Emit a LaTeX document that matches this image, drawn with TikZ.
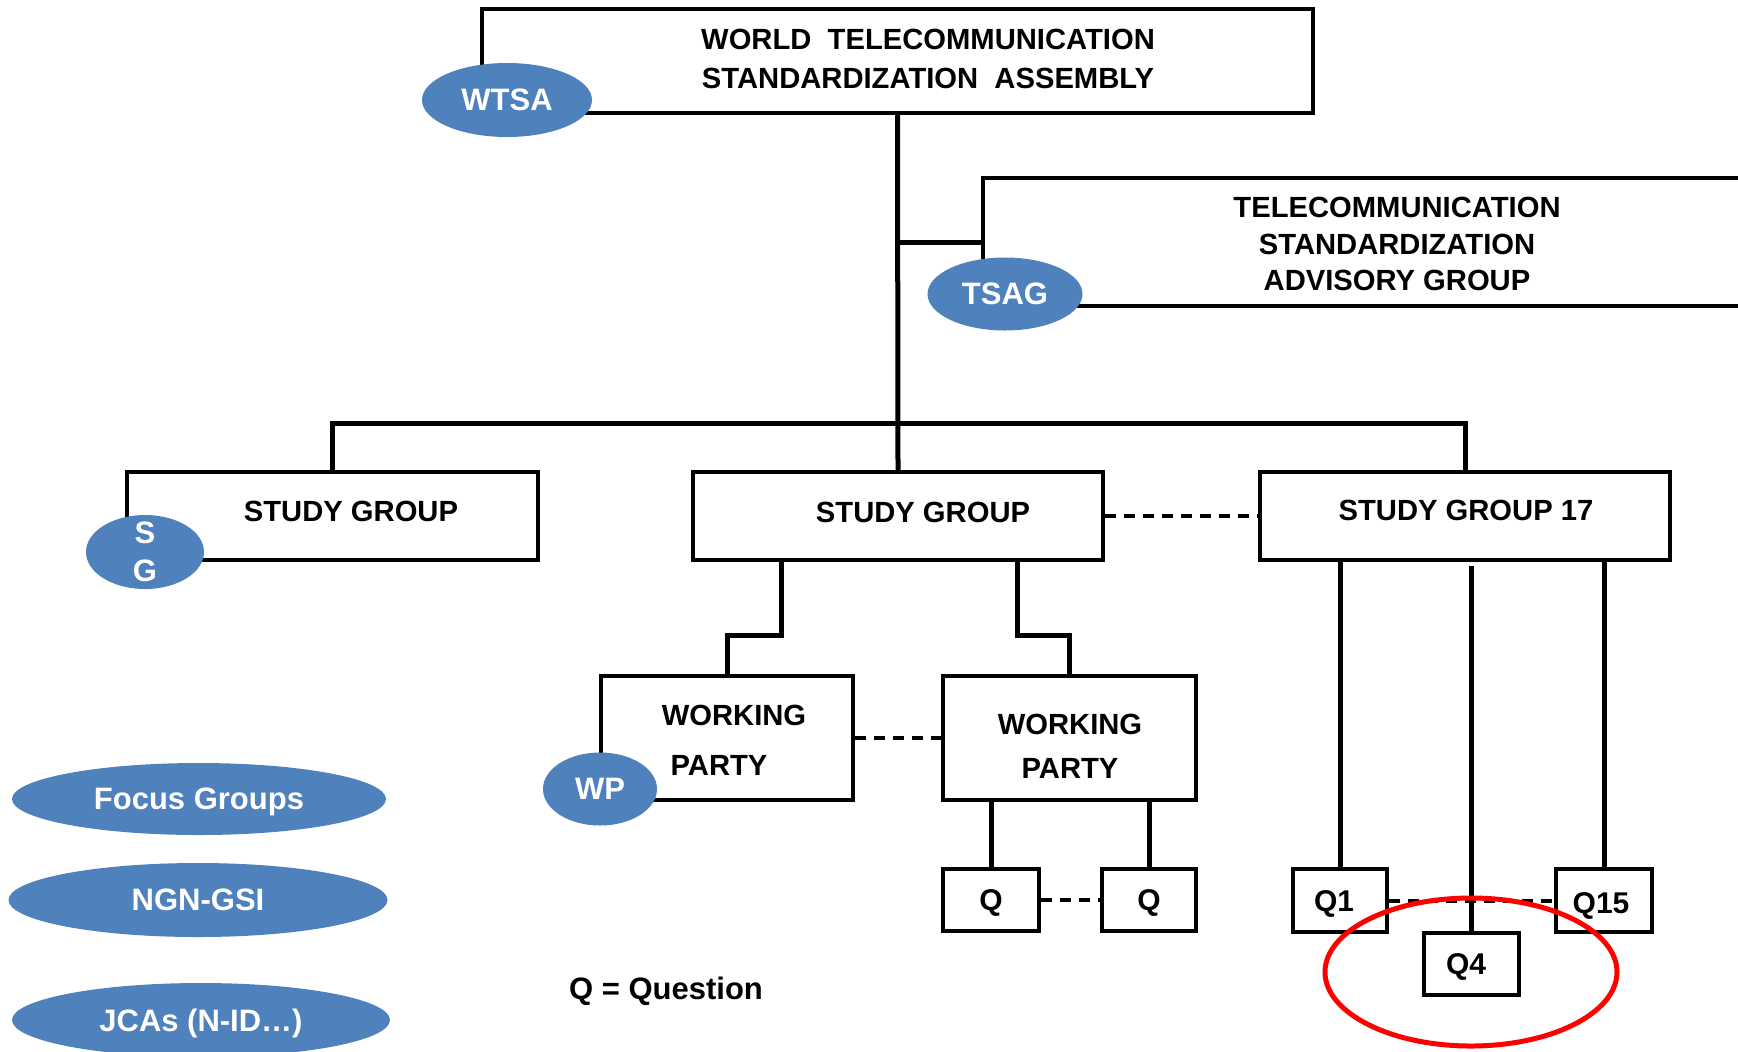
\documentclass[tikz,border=0pt]{standalone}
\usepackage{fontspec}
\setmainfont{Liberation Sans}
\usetikzlibrary{shapes.geometric,calc}
\definecolor{itublue}{RGB}{79,129,189}
\begin{document}
\begin{tikzpicture}[x=0.5pt,y=-0.5pt,
 box/.style={draw, line width=1.9pt, rectangle, inner sep=0pt, fill=white},
 blob/.style={ellipse, fill=itublue, inner sep=0pt, text=white, text depth=0pt,
   font=\fontsize{15.5}{18}\selectfont\bfseries},
 wtext/.style={inner sep=0pt, text=white, align=center},
 lbl/.style={inner sep=0pt, font=\fontsize{14.6}{19.5}\selectfont\bfseries, align=center},
 qlbl/.style={inner sep=0pt, font=\fontsize{15}{18}\selectfont\bfseries},
 link/.style={line width=2.5pt},
 dlink/.style={line width=2pt, dash pattern=on 5.5pt off 4pt},
 ring/.style={ellipse, draw=red, line width=2.5pt, inner sep=0pt}
]
\useasboundingbox (0,0) rectangle (1738,1051);
\clip (0,0) rectangle (1738,1051);
\fill[white] (0,0) rectangle (1738,1051);

% boxes
\node[box, minimum width=415.5pt, minimum height=52pt] (wtsa) at (897.5,61) {};
\node[box, minimum width=388.5pt, minimum height=64pt] (tsag) at (1371.5,242) {};
\node[box, minimum width=205.5pt, minimum height=44pt] (sgL) at (332.5,516) {};
\node[box, minimum width=205pt, minimum height=44pt] (sgM) at (898,516) {};
\node[box, minimum width=205pt, minimum height=44pt] (sg17) at (1465,516) {};
\node[box, minimum width=126pt, minimum height=62pt] (wpL) at (727,738) {};
\node[box, minimum width=126.5pt, minimum height=62pt] (wpR) at (1069.5,738) {};
\node[box, minimum width=48pt, minimum height=31pt] (qa) at (991,900) {};
\node[box, minimum width=47pt, minimum height=31pt] (qb) at (1149,900) {};
\node[box, minimum width=47pt, minimum height=31.5pt] (q1) at (1340,900.5) {};
\node[box, minimum width=48pt, minimum height=31.5pt] (q15) at (1604,900.5) {};
\node[box, minimum width=47.5pt, minimum height=31pt] (q4) at (1471.5,964) {};

% connectors
\coordinate (barY) at (0,423);
\draw[link] (wtsa.south) -- (sgM.north);
\draw[link] (wtsa.south |- tsag.west) -- (tsag.west);
\draw[link] (sgL.north) |- (sg17.north |- barY) -- (sg17.north);
\draw[link] ($(sgM.south)+(-117,0)$) -- ++(0,74) -| (wpL.north);
\draw[link] ($(sgM.south)+(119,0)$) -- ++(0,74) -| (wpR.north);
\draw[link] (qa.north |- wpR.south) -- (qa.north);
\draw[link] (qb.north |- wpR.south) -- (qb.north);
\draw[link] (q1.north |- sg17.south) -- (q1.north);
\draw[link] (q15.north |- sg17.south) -- (q15.north);
\draw[link] ($(q4.north |- sg17.south)+(0,4)$) -- (q4.north);

% dashed links
\draw[dlink] (sgM.east) -- (sg17.west);
\draw[dlink] (wpL.east) -- (wpR.west);
\draw[dlink] (qa.east) -- (qb.west);
\draw[dlink] (q1.east) -- (q15.west);

% ellipses
\node[blob, minimum width=85pt, minimum height=37pt] (wtsaE) at (507,100) {WTSA};
\node[blob, minimum width=77.5pt, minimum height=36.5pt] (tsagE) at (1005,294) {TSAG};
\node[blob, minimum width=59pt, minimum height=37pt] (sgE) at (145,552) {};
\node[wtext, font=\fontsize{15.5}{19}\selectfont\bfseries] (sgEt) at (sgE) {S\\G};
\node[blob, minimum width=57pt, minimum height=36.5pt] (wpE) at (600,789) {WP};
\node[blob, minimum width=187pt, minimum height=36pt] (fg) at (199,799) {Focus Groups};
\node[blob, minimum width=189.5pt, minimum height=37pt] (ngn) at (198,900) {NGN-GSI};
\node[blob, minimum width=189pt, minimum height=37pt] (jca) at (201,1020) {JCAs (N-ID…)};

% labels
\node[lbl] (wtsaT) at (928,58.5) {WORLD\ \ TELECOMMUNICATION\\STANDARDIZATION\ \ ASSEMBLY};
\node[lbl, font=\fontsize{14.6}{18.3}\selectfont\bfseries] (tsagT) at (1397,244) {TELECOMMUNICATION\\STANDARDIZATION\\ADVISORY GROUP};
\node[lbl] (sgLT) at (351,511) {STUDY GROUP};
\node[lbl] (sgMT) at (923,512) {STUDY GROUP};
\node[lbl] (sg17T) at (1466,510) {STUDY GROUP 17};
\node[lbl] (wpLT1) at (734,715) {WORKING};
\node[lbl] (wpLT2) at (719,765) {PARTY};
\node[lbl, font=\fontsize{14.6}{22}\selectfont\bfseries] (wpRT) at (1070,746) {WORKING\\PARTY};
\node[qlbl] (qaT) at (991,903) {Q};
\node[qlbl] (qbT) at (1149,903) {Q};
\node[qlbl] (q1T) at (1334,904) {Q1};
\node[qlbl] (q15T) at (1601,906) {Q15};
\node[qlbl] (q4T) at (1466,967) {Q4};
\node[lbl, font=\fontsize{15.5}{18}\selectfont\bfseries] (qdef) at (666,991) {Q = Question};

% highlight
\node[ring, minimum width=146pt, minimum height=74pt] (hl) at (1471,972) {};
\end{tikzpicture}
\end{document}
